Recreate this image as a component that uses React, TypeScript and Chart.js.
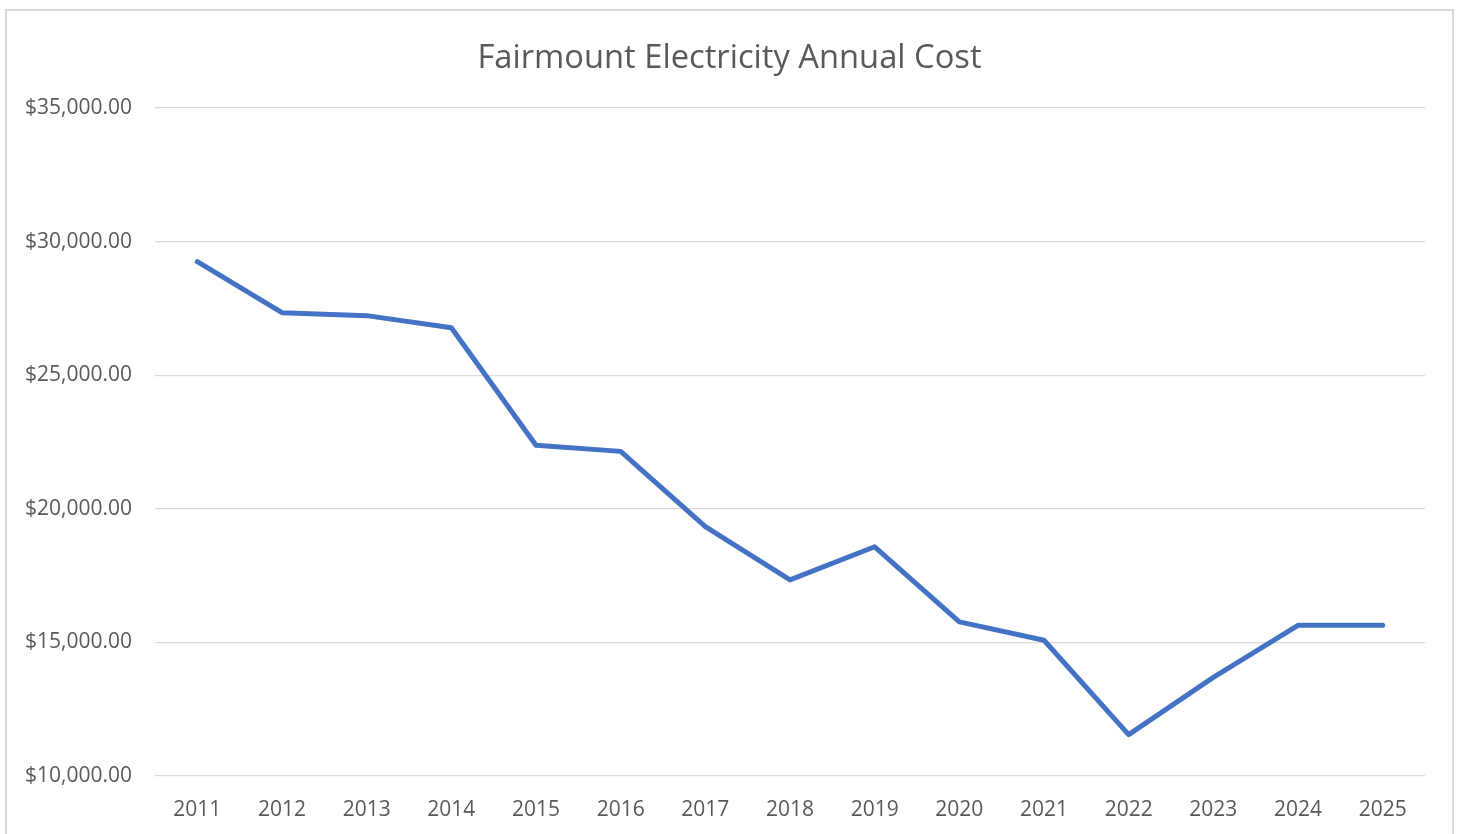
import React, { useEffect, useRef } from "react";
import { Chart, registerables } from "chart.js";

Chart.register(...registerables);

const years = ["2011", "2012", "2013", "2014", "2015", "2016", "2017", "2018", "2019", "2020", "2021", "2022", "2023", "2024", "2025"];
const annualCost = [29250, 27340, 27230, 26780, 22380, 22150, 19330, 17340, 18580, 15770, 15080, 11550, 13690, 15640, 15640];
const yTicks = [10000, 15000, 20000, 25000, 30000, 35000];
const chartTitle = "Fairmount Electricity Annual Cost";

export default function App() {
  const ref = useRef<HTMLCanvasElement | null>(null);
  useEffect(() => {
    if (!ref.current) return;
    const font = "'Open Sans', 'Liberation Sans', sans-serif";
    const chart = new Chart(ref.current, {
      type: "line",
      data: {
        labels: years,
        datasets: [
          {
            data: annualCost,
            borderColor: "#4472C4",
            borderWidth: 5,
            borderCapStyle: "round",
            borderJoinStyle: "round",
            pointRadius: 0,
            tension: 0,
            fill: false,
          },
        ],
      },
      options: {
        animation: false,
        responsive: false,
        maintainAspectRatio: false,
        layout: { padding: 0 },
        plugins: {
          legend: { display: false },
          tooltip: { enabled: false },
          title: {
            display: true,
            text: chartTitle,
            color: "#595959",
            font: { family: font, size: 32.7, weight: "normal", lineHeight: 1.2 },
            padding: { top: 39, bottom: 29.8 },
          },
        },
        scales: {
          x: {
            offset: true,
            grid: { display: false, drawTicks: false },
            border: { display: false },
            afterFit: (scale: any) => {
              scale.height = 58;
            },
            ticks: {
              color: "#595959",
              font: { family: font, size: 21, lineHeight: 1.2 },
              padding: 21,
              maxRotation: 0,
              autoSkip: false,
            },
          },
          y: {
            min: 10000,
            max: 35000,
            afterBuildTicks: (scale: any) => {
              scale.ticks = yTicks.map((v) => ({ value: v }));
            },
            afterFit: (scale: any) => {
              scale.width = 155;
            },
            grid: { color: "#d9d9d9", lineWidth: 1.3, drawTicks: false },
            border: { display: false },
            ticks: {
              color: "#595959",
              font: { family: font, size: 21 },
              padding: 23,
              callback: (v: any) =>
                "$" + Number(v).toLocaleString("en-US", { minimumFractionDigits: 2, maximumFractionDigits: 2 }),
            },
          },
          yRight: {
            type: "linear",
            position: "right",
            grid: { display: false, drawTicks: false },
            border: { display: false },
            ticks: { display: false },
            afterFit: (scale: any) => {
              scale.width = 34;
            },
          },
        },
      },
    });
    return () => chart.destroy();
  }, []);

  return (
    <>
      <canvas
        ref={ref}
        width={1459}
        height={834}
        style={{ position: "fixed", left: 0, top: 0, width: 1459, height: 834, background: "#fff" }}
      />
      <div
        style={{
          position: "fixed",
          left: 5,
          top: 9,
          width: 1449,
          height: 900,
          border: "2px solid #d9d9d9",
          boxSizing: "border-box",
          pointerEvents: "none",
        }}
      />
    </>
  );
}
